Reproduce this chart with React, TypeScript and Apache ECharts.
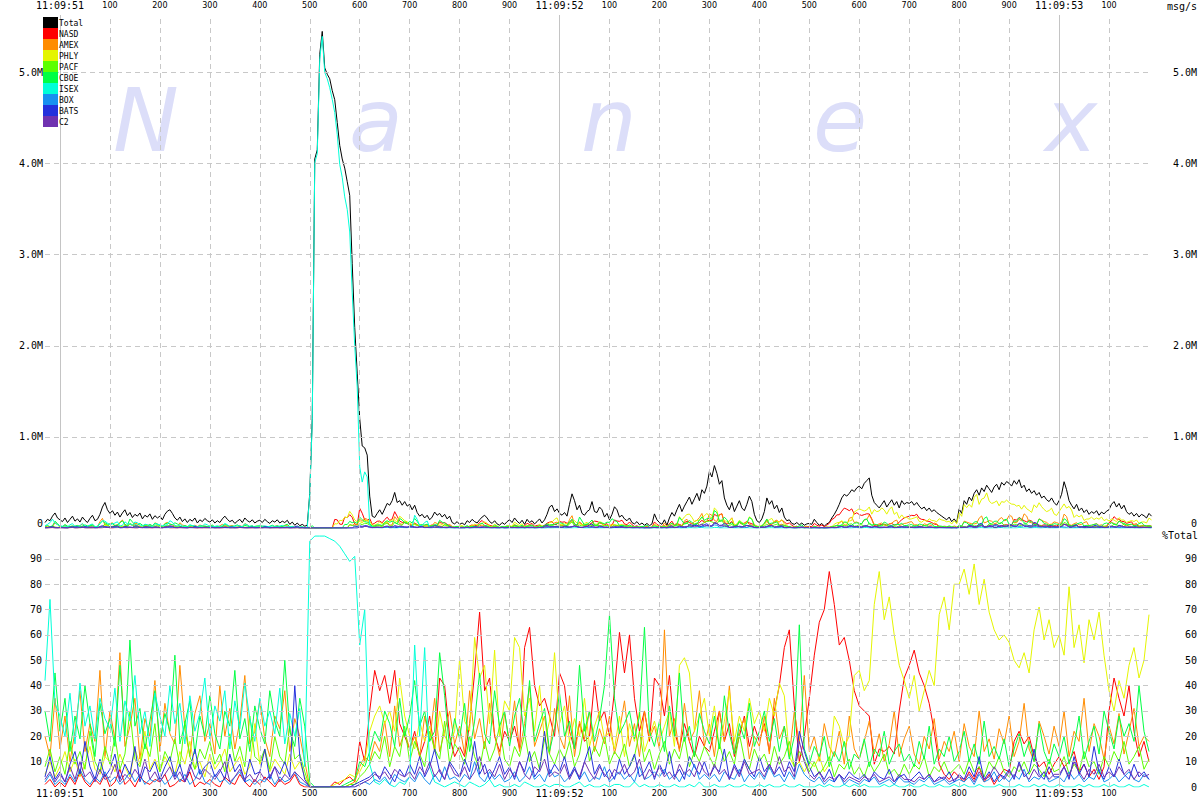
import React, { useEffect, useRef } from 'react';
import * as echarts from 'echarts';

// time axis: milliseconds relative to 11:09:51.000
const START_MS = -30;
const TOTAL_STEP_MS = 5;
const PCT_STEP_MS = 10;
const X_MIN = -30;
const X_MAX = 2186;
const TOP_Y_MAX = 5630000;
const BOTTOM_Y_MAX = 101;

const xTickValues = [0, 100, 200, 300, 400, 500, 600, 700, 800, 900, 1000, 1100, 1200, 1300, 1400, 1500, 1600, 1700, 1800, 1900, 2000, 2100];
const secondLabels = ['11:09:51', '11:09:52', '11:09:53'];
const topYTicks = [0, 1000000, 2000000, 3000000, 4000000, 5000000];
const bottomLeftYTicks = [10, 20, 30, 40, 50, 60, 70, 80, 90];
const bottomRightYTicks = [0, 10, 20, 30, 40, 50, 60, 70, 80, 90];

const seriesNames = ['Total', 'NASD', 'AMEX', 'PHLY', 'PACF', 'CBOE', 'ISEX', 'BOX', 'BATS', 'C2'];
const seriesColors = ['#000000', '#ff0000', '#ff8c00', '#e4f500', '#5cff00', '#00ff44', '#00ffd8', '#1890f0', '#2430dc', '#7032b0'];
const watermarkLetters = ['N', 'a', 'n', 'e', 'x'];

// Total msg/s in thousands, every 5 ms from -30 ms
const totalK = [
  60, 95, 80, 130, 165, 110,
  90, 70, 110, 60, 95, 130, 75, 100, 65, 120, 85, 60, 105, 140, 80, 95, 150, 230, 280, 200,
  160, 190, 140, 175, 120, 165, 200, 135, 170, 115, 150, 130, 165, 100, 140, 120, 155, 95, 135, 110,
  130, 90, 150, 185, 200, 160, 110, 85, 120, 70, 100, 60, 95, 75, 110, 55, 90, 70, 105, 80,
  65, 90, 55, 80, 60, 100, 130, 95, 70, 85, 50, 75, 95, 60, 110, 80, 65, 90, 55, 75,
  85, 60, 95, 70, 50, 80, 65, 90, 55, 75, 60, 85, 40, 65, 30, 55, 25, 40, 20, 30,
  380, 1200, 4050, 4150, 5200, 5450, 5050, 4980, 4930, 4800, 4700, 4450, 4200, 4050, 3950, 3800, 3650, 2900, 2200, 1700,
  1200, 900, 880, 800, 350, 130, 115, 160, 200, 150, 210, 270, 250, 300, 390, 280, 300, 250, 290, 240,
  260, 200, 250, 170, 130, 150, 110, 140, 90, 120, 175, 140, 160, 120, 150, 100, 130, 60, 45, 70,
  40, 55, 35, 80, 60, 95, 70, 55, 90, 120, 140, 110, 70, 50, 80, 45, 30, 60, 40, 70,
  90, 60, 110, 75, 50, 85, 40, 95, 60, 80, 45, 70, 100, 55, 90, 150, 230, 250, 180, 210,
  160, 140, 170, 130, 260, 375, 300, 200, 250, 160, 140, 180, 200, 290, 180, 170, 230, 200, 120, 160,
  90, 150, 233, 200, 120, 140, 100, 80, 110, 60, 45, 70, 35, 55, 30, 50, 25, 45, 155, 90,
  60, 40, 90, 30, 110, 170, 130, 200, 260, 180, 240, 290, 340, 260, 320, 380, 300, 420, 380, 460,
  620, 560, 685, 600, 480, 520, 330, 250, 200, 280, 180, 240, 300, 220, 190, 260, 350, 290, 150, 80,
  60, 100, 180, 330, 260, 300, 210, 250, 170, 220, 120, 80, 90, 50, 40, 60, 35, 55, 30, 45,
  50, 40, 96, 60, 30, 50, 20, 45, 60, 110, 150, 200, 260, 330, 370, 350, 380, 420, 400, 440,
  460, 430, 490, 520, 550, 360, 280, 250, 220, 260, 300, 230, 270, 310, 250, 290, 220, 300, 260, 280,
  270, 290, 250, 280, 240, 210, 230, 190, 220, 180, 200, 170, 150, 130, 110, 90, 120, 70, 100, 60,
  210, 160, 300, 260, 340, 300, 380, 420, 360, 440, 400, 470, 430, 390, 450, 480, 420, 500, 470, 510,
  490, 460, 520, 480, 530, 440, 470, 400, 430, 380, 410, 360, 390, 330, 350, 310, 290, 330, 280, 250,
  300, 370, 508, 420, 300, 250, 210, 260, 190, 220, 170, 200, 150, 180, 160, 190, 140, 175, 155, 185,
  200, 260, 290, 230, 270, 210, 250, 180, 150, 170, 130, 160, 120, 150, 135, 110, 160, 130,
];

// % of total, every 10 ms from -30 ms
const nasdPct = [
  1, 3, 0,
  2, 0, 4, 1, 6, 2, 0, 3, 1, 5,
  0, 2, 7, 1, 3, 0, 4, 2, 1, 3,
  2, 5, 0, 1, 3, 2, 6, 0, 2, 1,
  3, 1, 0, 4, 2, 1, 5, 2, 0, 3,
  1, 4, 2, 0, 3, 1, 2, 5, 1, 0,
  0, 0, 0, 0, 0, 2, 1, 3, 4, 2,
  18, 10, 30, 46, 38, 44, 33, 46, 25, 20,
  15, 22, 12, 18, 28, 14, 43, 40, 20, 12,
  16, 12, 25, 45, 69, 38, 43, 20, 14, 22,
  18, 24, 15, 55, 63, 40, 32, 35, 28, 20,
  45, 40, 22, 15, 25, 18, 20, 42, 26, 30,
  20, 38, 61, 45, 60, 35, 22, 30, 18, 43,
  40, 28, 44, 22, 15, 25, 18, 12, 20, 16,
  14, 22, 30, 18, 25, 12, 20, 28, 16, 24,
  18, 25, 14, 30, 40, 55, 62, 32, 10, 20,
  35, 52, 65, 70, 85, 72, 56, 59, 50, 38,
  32, 30, 28, 9, 15, 14, 16, 13, 30, 43,
  48, 54, 45, 40, 33, 22, 9, 5, 3, 6,
  4, 2, 6, 3, 8, 2, 5, 1, 4, 7,
  6, 18, 22, 17, 20, 12, 8, 10, 5, 9,
  12, 8, 10, 14, 6, 9, 4, 7, 3, 8,
  30, 43, 35, 28, 40, 22, 12, 18, 10,
];

const amexPct = [
  20, 12, 35,
  15, 28, 10, 22, 38, 14, 25, 18, 46, 12,
  30, 19, 53, 16, 24, 35, 11, 27, 20, 42,
  14, 33, 21, 17, 48, 23, 12, 29, 36, 18,
  25, 13, 40, 20, 31, 15, 26, 44, 17, 22,
  34, 19, 12, 28, 23, 38, 14, 27, 20, 10,
  0, 0, 0, 0, 0, 0, 0, 0, 1, 2,
  8, 12, 10, 18, 14, 26, 12, 32, 16, 22,
  15, 20, 12, 28, 18, 35, 14, 22, 30, 17,
  24, 13, 38, 19, 27, 15, 33, 21, 12, 29,
  18, 34, 14, 25, 40, 16, 22, 28, 13, 31,
  20, 15, 36, 12, 26, 19, 30, 14, 23, 17,
  28, 13, 22, 34, 16, 25, 12, 30, 19, 24,
  15, 62, 20, 27, 14, 33, 18, 22, 38, 16,
  25, 12, 30, 18, 40, 14, 22, 27, 11, 20,
  16, 28, 13, 35, 19, 24, 12, 30, 17, 44,
  14, 20, 10, 25, 16, 12, 22, 9, 28, 15,
  11, 18, 26, 13, 21, 10, 17, 30, 12, 19,
  24, 13, 9, 20, 15, 27, 11, 18, 14, 22,
  10, 25, 16, 12, 30, 14, 19, 11, 23, 17,
  28, 12, 18, 33, 15, 10, 26, 20, 13, 24,
  16, 30, 12, 22, 18, 35, 14, 25, 20, 11,
  24, 17, 29, 13, 22, 31, 16, 20, 18,
];

const phlyPct = [
  5, 10, 4,
  8, 14, 6, 11, 4, 9, 16, 7, 5, 12,
  10, 6, 13, 8, 4, 15, 9, 22, 7, 11,
  6, 12, 8, 5, 14, 9, 18, 7, 10, 4,
  13, 7, 10, 15, 6, 9, 12, 5, 8, 25,
  9, 14, 6, 11, 8, 5, 13, 7, 10, 4,
  0, 0, 0, 0, 0, 1, 2, 3, 5, 4,
  6, 10, 22, 28, 32, 25, 30, 22, 43, 28,
  20, 15, 26, 18, 24, 14, 30, 20, 17, 22,
  51, 26, 22, 59, 43, 48, 25, 54, 20, 34,
  30, 59, 55, 28, 35, 22, 40, 18, 26, 53,
  25, 32, 18, 27, 20, 35, 16, 24, 30, 19,
  22, 15, 28, 12, 25, 18, 30, 14, 20, 26,
  18, 24, 30, 16, 48, 51, 45, 22, 28, 35,
  20, 32, 15, 26, 38, 18, 28, 22, 35, 25,
  30, 22, 35, 28, 41, 36, 12, 8, 10, 6,
  10, 8, 12, 6, 9, 28, 24, 16, 20, 44,
  46, 38, 42, 72, 85, 66, 75, 60, 48, 42,
  35, 44, 30, 38, 46, 40, 68, 75, 62, 80,
  80, 86, 76, 88, 72, 82, 69, 62, 58, 60,
  57, 50, 47, 53, 45, 62, 71, 58, 66, 55,
  60, 52, 79, 55, 64, 49, 66, 58, 69, 52,
  38, 30, 42, 35, 48, 55, 43, 50, 68,
];

const pacfPct = [
  8, 15, 6,
  12, 5, 18, 9, 14, 7, 22, 10, 6, 16,
  9, 20, 7, 13, 30, 11, 8, 17, 12, 25,
  6, 14, 10, 19, 8, 26, 12, 7, 15, 11,
  18, 9, 13, 6, 21, 10, 16, 8, 28, 12,
  10, 15, 7, 20, 12, 9, 24, 11, 13, 6,
  0, 0, 0, 0, 0, 0, 0, 0, 1, 1,
  4, 6, 9, 14, 11, 20, 8, 16, 12, 24,
  10, 18, 13, 8, 22, 15, 11, 26, 9, 17,
  14, 9, 20, 12, 7, 18, 10, 15, 24, 11,
  8, 16, 12, 21, 10, 14, 7, 19, 13, 9,
  15, 11, 18, 8, 13, 25, 10, 16, 12, 20,
  9, 14, 11, 17, 8, 12, 22, 10, 15, 7,
  13, 18, 9, 15, 11, 20, 8, 14, 10, 16,
  12, 8, 17, 10, 14, 9, 21, 11, 7, 15,
  10, 13, 7, 16, 9, 12, 18, 8, 14, 11,
  6, 10, 5, 8, 12, 4, 9, 7, 11, 5,
  8, 4, 10, 6, 9, 13, 5, 7, 4, 9,
  5, 9, 7, 12, 4, 8, 6, 10, 5, 7,
  9, 5, 11, 6, 8, 4, 10, 7, 12, 6,
  4, 8, 6, 10, 5, 9, 7, 4, 11, 6,
  7, 12, 5, 9, 6, 14, 8, 10, 5, 12,
  8, 14, 10, 18, 9, 12, 16, 7, 11,
];

const cboePct = [
  30, 18, 45,
  22, 35, 14, 28, 19, 40, 25, 12, 33, 21,
  27, 16, 48, 20, 58, 24, 31, 15, 26, 38,
  18, 29, 22, 52, 17, 25, 34, 13, 28, 20,
  36, 21, 15, 30, 24, 46, 19, 27, 14, 32,
  23, 17, 38, 26, 20, 50, 22, 16, 35, 24,
  2, 0, 0, 0, 0, 0, 0, 1, 2, 3,
  10, 8, 14, 22, 18, 30, 25, 16, 35, 20,
  28, 42, 24, 30, 18, 22, 53, 36, 15, 27,
  19, 33, 14, 26, 45, 21, 17, 38, 24, 30,
  16, 28, 35, 20, 42, 18, 25, 31, 14, 23,
  37, 20, 26, 15, 48, 22, 30, 18, 27, 40,
  68, 35, 21, 25, 30, 19, 28, 63, 22, 16,
  26, 14, 32, 20, 45, 18, 24, 12, 29, 22,
  17, 28, 15, 36, 21, 13, 25, 19, 33, 16,
  22, 30, 18, 27, 14, 24, 11, 20, 64, 15,
  9, 16, 12, 20, 8, 14, 10, 18, 7, 13,
  11, 19, 8, 15, 12, 22, 9, 14, 17, 10,
  13, 8, 18, 11, 24, 9, 15, 12, 20, 10,
  14, 22, 10, 17, 9, 26, 12, 16, 11, 19,
  8, 15, 21, 12, 18, 10, 25, 14, 9, 17,
  12, 20, 9, 16, 28, 11, 18, 24, 13, 30,
  22, 15, 28, 20, 25, 18, 40, 22, 14,
];

const isexPct = [
  42, 74, 33,
  28, 20, 37, 17, 41, 24, 32, 19, 35, 27,
  23, 39, 18, 34, 26, 44, 21, 30, 16, 37,
  28, 20, 40, 25, 33, 17, 36, 22, 29, 43,
  19, 32, 26, 38, 15, 34, 23, 41, 27, 18,
  35, 24, 30, 21, 39, 17, 29, 20, 31, 8,
  97, 99, 99, 99, 98, 97, 95, 92, 89, 91,
  56, 70, 9, 2, 1, 3, 1, 0, 2, 1,
  4, 56, 20, 55, 8, 2, 1, 0, 1, 2,
  1, 0, 2, 1, 0, 1, 3, 0, 1, 0,
  0, 1, 0, 2, 1, 0, 0, 1, 0, 1,
  1, 0, 0, 1, 2, 0, 1, 0, 0, 1,
  0, 1, 1, 0, 0, 2, 0, 1, 0, 0,
  1, 0, 0, 1, 0, 0, 1, 0, 2, 0,
  0, 1, 0, 0, 1, 0, 0, 1, 0, 0,
  1, 0, 1, 0, 0, 1, 0, 0, 1, 0,
  0, 0, 1, 0, 1, 0, 0, 1, 0, 1,
  0, 1, 0, 0, 0, 1, 0, 1, 0, 0,
  1, 0, 0, 1, 0, 0, 1, 0, 0, 1,
  0, 1, 0, 0, 1, 0, 0, 0, 1, 0,
  0, 0, 1, 0, 0, 1, 0, 1, 0, 0,
  1, 0, 0, 0, 1, 0, 1, 0, 0, 1,
  0, 1, 0, 0, 1, 0, 0, 1, 0,
];

const boxPct = [
  2, 5, 1,
  3, 1, 5, 2, 7, 3, 1, 4, 2, 6,
  2, 4, 1, 3, 6, 2, 5, 1, 3, 2,
  4, 1, 3, 6, 2, 5, 1, 3, 7, 2,
  1, 5, 2, 3, 1, 4, 6, 2, 3, 1,
  3, 2, 5, 1, 4, 2, 3, 6, 2, 1,
  0, 0, 0, 0, 0, 0, 0, 0, 0, 0,
  1, 2, 1, 3, 2, 4, 1, 5, 3, 2,
  4, 2, 6, 3, 1, 5, 2, 8, 3, 4,
  2, 5, 3, 10, 4, 2, 6, 3, 5, 2,
  3, 6, 2, 4, 8, 3, 5, 2, 7, 4,
  5, 2, 4, 7, 3, 6, 2, 4, 3, 8,
  2, 4, 6, 3, 5, 2, 8, 3, 4, 6,
  4, 7, 3, 5, 2, 6, 4, 9, 3, 5,
  3, 5, 2, 6, 4, 3, 7, 2, 5, 3,
  6, 3, 8, 4, 5, 2, 6, 3, 9, 5,
  3, 2, 4, 1, 3, 2, 5, 1, 3, 2,
  1, 3, 2, 4, 1, 2, 3, 1, 4, 2,
  2, 1, 3, 2, 4, 1, 2, 3, 1, 2,
  3, 2, 4, 1, 5, 2, 3, 6, 2, 4,
  2, 5, 3, 7, 2, 4, 3, 6, 2, 3,
  4, 2, 6, 3, 5, 2, 4, 3, 7, 2,
  3, 5, 2, 4, 6, 3, 2, 5, 3,
];

const batsPct = [
  4, 12, 3,
  6, 2, 9, 14, 5, 18, 8, 3, 11, 4,
  7, 13, 3, 9, 5, 16, 2, 8, 6, 10,
  3, 8, 12, 4, 9, 2, 7, 15, 5, 8,
  10, 4, 7, 3, 13, 6, 9, 2, 11, 5,
  6, 15, 3, 8, 5, 10, 4, 40, 12, 3,
  0, 0, 0, 0, 0, 0, 0, 0, 0, 1,
  2, 3, 4, 6, 3, 8, 5, 2, 7, 4,
  9, 5, 12, 4, 8, 15, 6, 3, 10, 7,
  4, 11, 6, 18, 5, 9, 3, 7, 12, 5,
  8, 3, 10, 6, 14, 4, 7, 22, 5, 9,
  6, 12, 4, 8, 3, 10, 16, 5, 9, 4,
  7, 3, 11, 5, 8, 13, 4, 6, 10, 3,
  9, 5, 14, 4, 7, 3, 12, 8, 5, 10,
  4, 8, 6, 15, 3, 9, 5, 11, 7, 4,
  12, 6, 9, 5, 8, 4, 10, 6, 22, 14,
  8, 4, 6, 3, 7, 2, 5, 3, 6, 4,
  3, 5, 2, 6, 4, 3, 7, 2, 4, 5,
  2, 4, 6, 3, 5, 2, 4, 3, 6, 2,
  5, 3, 8, 4, 12, 3, 6, 2, 5, 4,
  7, 3, 10, 4, 6, 15, 5, 3, 8, 4,
  4, 8, 3, 12, 5, 9, 4, 16, 6, 3,
  8, 4, 11, 5, 3, 9, 4, 6, 3,
];

const c2Pct = [
  3, 6, 2,
  5, 2, 8, 3, 10, 4, 6, 2, 7, 3,
  4, 9, 2, 5, 3, 7, 4, 11, 3, 6,
  2, 5, 8, 3, 6, 2, 9, 4, 3, 7,
  5, 3, 6, 10, 2, 4, 7, 3, 5, 2,
  6, 3, 4, 8, 2, 5, 3, 6, 4, 2,
  0, 0, 0, 0, 0, 0, 0, 0, 0, 0,
  1, 2, 3, 5, 4, 6, 3, 7, 5, 4,
  6, 3, 8, 5, 10, 4, 7, 3, 9, 5,
  4, 8, 3, 6, 12, 5, 7, 4, 9, 3,
  7, 4, 10, 5, 3, 8, 6, 11, 4, 6,
  5, 9, 3, 7, 4, 10, 6, 3, 8, 5,
  3, 7, 5, 9, 4, 6, 11, 3, 7, 4,
  8, 4, 6, 3, 9, 5, 7, 4, 10, 6,
  4, 9, 5, 7, 3, 8, 4, 10, 5, 6,
  7, 4, 9, 5, 12, 6, 8, 4, 18, 10,
  5, 3, 6, 2, 4, 3, 5, 2, 4, 3,
  2, 4, 3, 5, 2, 3, 4, 2, 5, 3,
  3, 2, 4, 3, 5, 2, 3, 4, 2, 3,
  4, 3, 5, 2, 6, 3, 4, 8, 5, 3,
  6, 4, 9, 5, 3, 7, 4, 6, 3, 5,
  5, 8, 4, 10, 6, 3, 7, 5, 9, 4,
  6, 4, 8, 5, 7, 3, 6, 4, 5,
];

const exchangePcts = [nasdPct, amexPct, phlyPct, pacfPct, cboePct, isexPct, boxPct, batsPct, c2Pct];

const MONO = '"DejaVu Sans Mono", monospace';
const SANS = '"DejaVu Sans", sans-serif';

function xLabel(v: number) {
  const ms = Math.round(v);
  if (ms % 1000 === 0) return '{t|' + secondLabels[ms / 1000] + '}';
  return '{n|' + (ms % 1000) + '}';
}

function topYLabel(v: number) {
  if (v === 0) return '{z|0}';
  return '{m|' + (v / 1000000).toFixed(1) + 'M}';
}

function buildOption() {
  const gridDash = { color: '#c8c8c8', width: 1, type: [5, 4] as any };
  const gridSolid = { color: '#c4c4c4', width: 1, type: 'solid' as any };

  const xRich = {
    t: { fontFamily: MONO, fontSize: 10, lineHeight: 12, color: '#000' },
    n: { fontFamily: SANS, fontSize: 8, lineHeight: 12, color: '#000' },
  };
  const yRich = {
    m: { fontFamily: MONO, fontSize: 10, color: '#000' },
    z: { fontFamily: MONO, fontSize: 10, color: '#000', padding: [0, 0, 10, 0] },
  };

  const vertLines = xTickValues.map((v) => ({ xAxis: v, lineStyle: v % 1000 === 0 ? gridSolid : gridDash }));

  const gridSeries = [
    {
      type: 'line', xAxisIndex: 0, yAxisIndex: 0, data: [[X_MIN, 0]], symbol: 'none', silent: true, z: 1,
      lineStyle: { opacity: 0 },
      markLine: {
        silent: true, symbol: ['none', 'none'], label: { show: false }, emphasis: { disabled: true },
        data: [...vertLines, ...topYTicks.filter((v) => v > 0).map((v) => ({ yAxis: v, lineStyle: gridDash }))],
      },
    },
    {
      type: 'line', xAxisIndex: 1, yAxisIndex: 2, data: [[X_MIN, 0]], symbol: 'none', silent: true, z: 1,
      lineStyle: { opacity: 0 },
      markLine: {
        silent: true, symbol: ['none', 'none'], label: { show: false }, emphasis: { disabled: true },
        data: [...vertLines, ...bottomLeftYTicks.map((v) => ({ yAxis: v, lineStyle: gridDash }))],
      },
    },
  ];

  const lineBase = (name: string, color: string) => ({
    type: 'line', name, symbol: 'none', showSymbol: false, silent: true, z: 2,
    lineStyle: { width: 1, color }, itemStyle: { color }, emphasis: { disabled: true },
  });

  const topSeries: any[] = [];
  topSeries.push({
    ...lineBase('Total', seriesColors[0]), xAxisIndex: 0, yAxisIndex: 0,
    data: totalK.map((v, j) => [START_MS + j * TOTAL_STEP_MS, v * 1000]),
  });
  exchangePcts.forEach((pct, k) => {
    topSeries.push({
      ...lineBase(seriesNames[k + 1], seriesColors[k + 1]), xAxisIndex: 0, yAxisIndex: 0,
      data: totalK.map((v, j) => [START_MS + j * TOTAL_STEP_MS, (v * 1000 * pct[Math.min(j >> 1, pct.length - 1)]) / 100]),
    });
  });

  const bottomSeries = exchangePcts.map((pct, k) => ({
    ...lineBase(seriesNames[k + 1], seriesColors[k + 1]), xAxisIndex: 1, yAxisIndex: 2,
    data: pct.map((p, i) => [START_MS + i * PCT_STEP_MS, p]),
  }));

  const watermarkX = [146, 376, 609, 840, 1071];
  const graphics: any[] = [];
  watermarkLetters.forEach((ch, i) => {
    graphics.push({
      type: 'text', x: watermarkX[i], y: 120, z: 0, silent: true,
      style: { text: ch, font: 'italic 88px "DejaVu Sans"', fill: '#dcdef9', align: 'center', verticalAlign: 'middle' },
    });
  });
  seriesNames.forEach((name, k) => {
    graphics.push({
      type: 'rect', z: 100, silent: true,
      shape: { x: 43, y: 17 + 11 * k, width: 15, height: 11 },
      style: { fill: seriesColors[k] },
    });
    graphics.push({
      type: 'text', z: 100, silent: true, x: 59, y: 23 + 11 * k,
      style: { text: name, font: '8px ' + MONO, fill: '#000', verticalAlign: 'middle' },
    });
  });
  graphics.push({
    type: 'text', z: 100, silent: true, x: 1197, y: 6,
    style: { text: 'msg/s', font: '10px ' + MONO, fill: '#000', align: 'right', verticalAlign: 'middle' },
  });
  graphics.push({
    type: 'text', z: 100, silent: true, x: 1198, y: 535,
    style: { text: '%Total', font: '10px ' + MONO, fill: '#000', align: 'right', verticalAlign: 'middle' },
  });

  const hidden = { axisLine: { show: false }, axisTick: { show: false }, splitLine: { show: false } };

  return {
    animation: false,
    backgroundColor: '#ffffff',
    grid: [
      { left: 45, right: 47, top: 15, height: 513 },
      { left: 45, right: 47, top: 531, height: 256 },
    ],
    xAxis: [
      {
        type: 'value', gridIndex: 0, position: 'top', min: X_MIN, max: X_MAX, ...hidden,
        axisLabel: { customValues: xTickValues, formatter: xLabel, rich: xRich, margin: 4 },
      },
      {
        type: 'value', gridIndex: 1, position: 'bottom', min: X_MIN, max: X_MAX, ...hidden,
        axisLabel: { customValues: xTickValues, formatter: xLabel, rich: xRich, margin: 0 },
      },
    ],
    yAxis: [
      {
        type: 'value', gridIndex: 0, position: 'left', min: 0, max: TOP_Y_MAX, ...hidden,
        axisLabel: { customValues: topYTicks, formatter: topYLabel, rich: yRich, margin: 2 },
      },
      {
        type: 'value', gridIndex: 0, position: 'right', min: 0, max: TOP_Y_MAX, ...hidden,
        axisLabel: { customValues: topYTicks, formatter: topYLabel, rich: yRich, margin: 45, align: 'right' },
      },
      {
        type: 'value', gridIndex: 1, position: 'left', min: 0, max: BOTTOM_Y_MAX, ...hidden,
        axisLabel: { customValues: bottomLeftYTicks, fontFamily: MONO, fontSize: 10, color: '#000', margin: 3 },
      },
      {
        type: 'value', gridIndex: 1, position: 'right', min: 0, max: BOTTOM_Y_MAX, ...hidden,
        axisLabel: { customValues: bottomRightYTicks, fontFamily: MONO, fontSize: 10, color: '#000', margin: 45, align: 'right' },
      },
    ],
    graphic: graphics,
    series: [...gridSeries, ...topSeries, ...bottomSeries],
  };
}

export default function App() {
  const ref = useRef<HTMLDivElement>(null);
  useEffect(() => {
    document.body.style.margin = '0';
    const chart = echarts.init(ref.current as HTMLDivElement, null, { renderer: 'svg' });
    chart.setOption(buildOption() as any);
    return () => chart.dispose();
  }, []);
  return <div ref={ref} style={{ width: 1200, height: 800, background: '#ffffff' }} />;
}
